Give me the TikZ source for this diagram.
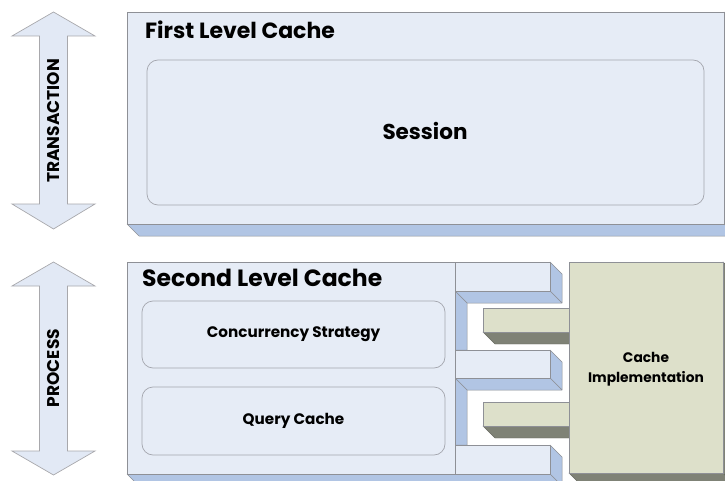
\documentclass[tikz,border=0pt]{standalone}
\usepackage{fontspec}
\setmainfont{Poppins}
\definecolor{frontblue}{HTML}{E6ECF6}
\definecolor{sideblue}{HTML}{B1C5E4}
\definecolor{edgegrey}{HTML}{8E9096}
\definecolor{innergrey}{HTML}{A4A6AE}
\definecolor{greenfront}{HTML}{DDE0CA}
\definecolor{greendark}{HTML}{7F8276}
\definecolor{arrowfill}{HTML}{E2E9F5}
\definecolor{arrowedge}{HTML}{A8A8AC}
\begin{document}
\begin{tikzpicture}[x=1pt,y=-1pt,
  face/.style={fill=frontblue,draw=edgegrey,line width=0.7pt,line join=round},
  side/.style={fill=sideblue,draw=edgegrey,line width=0.5pt,line join=round},
  gface/.style={fill=greenfront,draw=edgegrey,line width=0.5pt},
  gside/.style={fill=greendark,draw=greendark!80!black,line width=0.4pt},
  inner/.style={draw=innergrey,line width=0.7pt,rounded corners=11pt},
  dblarrow/.style={fill=arrowfill,draw=arrowedge,line width=0.7pt},
  title/.style={font=\bfseries\fontsize{22}{26}\selectfont,anchor=base west,inner sep=0pt},
  label/.style={font=\bfseries\fontsize{15.2}{18}\selectfont,align=center,inner sep=0pt},
  vlabel/.style={font=\bfseries\fontsize{17}{20}\selectfont,rotate=90,inner sep=0pt}]
\useasboundingbox (0,0) rectangle (725,481);
\clip (0,0) rectangle (725,481);

% double arrows
\draw[dblarrow] (53.5,12) -- (95,36) -- (67.5,36) -- (67.5,204) -- (95,204) -- (53.5,229)
  -- (12,204) -- (39.5,204) -- (39.5,36) -- (12,36) -- cycle;
\node[vlabel] (trans) at (53.5,121) {TRANSACTION};
\draw[dblarrow] (53.5,262) -- (95,286) -- (67.5,286) -- (67.5,451) -- (95,451) -- (53.5,475)
  -- (12,451) -- (39.5,451) -- (39.5,286) -- (12,286) -- cycle;
\node[vlabel] (proc) at (53.5,368) {PROCESS};

% first level cache
\draw[side] (724,12) -- (736,24) -- (736,236) -- (724,224) -- cycle;
\draw[side] (127,224) -- (724,224) -- (736,236) -- (139,236) -- cycle;
\draw[face] (127,12) rectangle (724,224);
\node[title] (flc) at (145,39) {First Level Cache};
\draw[inner] (147,60) rectangle (704,205);
\node[font=\bfseries\fontsize{21.5}{26}\selectfont] (session) at (425,131) {Session};

% second level cache : side faces
\draw[side] (550,262) -- (562,274) -- (562,303) -- (550,291) -- cycle;
\draw[side] (455,291) -- (550,291) -- (562,303) -- (467,303) -- cycle;
\draw[side] (455,291) -- (467,303) -- (467,350) -- (455,350) -- cycle;
\draw[side] (550,350) -- (562,362) -- (562,390) -- (550,378) -- cycle;
\draw[side] (455,378) -- (550,378) -- (562,390) -- (467,390) -- cycle;
\draw[side] (455,378) -- (467,390) -- (467,445) -- (455,445) -- cycle;
\draw[side] (550,445) -- (562,457) -- (562,486) -- (550,474) -- cycle;
\draw[side] (127,474) -- (550,474) -- (562,486) -- (139,486) -- cycle;
% front face
\draw[face] (127,262) -- (550,262) -- (550,291) -- (455,291) -- (455,350) -- (550,350)
  -- (550,378) -- (455,378) -- (455,445) -- (550,445) -- (550,474) -- (127,474) -- cycle;
\draw[edgegrey,line width=0.7pt] (455,262) -- (455,474);
\node[title,font=\bfseries\fontsize{23.5}{27}\selectfont] (slc) at (142,286) {Second Level Cache};
\draw[inner] (142,301) rectangle (445,368);
\node[label] (conc) at (293.5,334.5) {Concurrency Strategy};
\draw[inner] (142,387) rectangle (445,455);
\node[label] (query) at (293.5,421) {Query Cache};

% green bars
\draw[gside] (483,332) -- (575,332) -- (575,344) -- (495,344) -- cycle;
\draw[gface] (483,308) rectangle (575,332);
\draw[gside] (483,426) -- (575,426) -- (575,438) -- (495,438) -- cycle;
\draw[gface] (483,402) rectangle (575,426);

% cache implementation
\draw[gside] (569,473) -- (723,473) -- (735,485) -- (581,485) -- cycle;
\draw[gside] (723,262) -- (735,274) -- (735,485) -- (723,473) -- cycle;
\draw[gface,line width=0.7pt] (569,262) rectangle (723,473);
\node[label,font=\bfseries\fontsize{13.8}{20}\selectfont] (impl) at (646,369) {Cache\\Implementation};
\end{tikzpicture}
\end{document}
